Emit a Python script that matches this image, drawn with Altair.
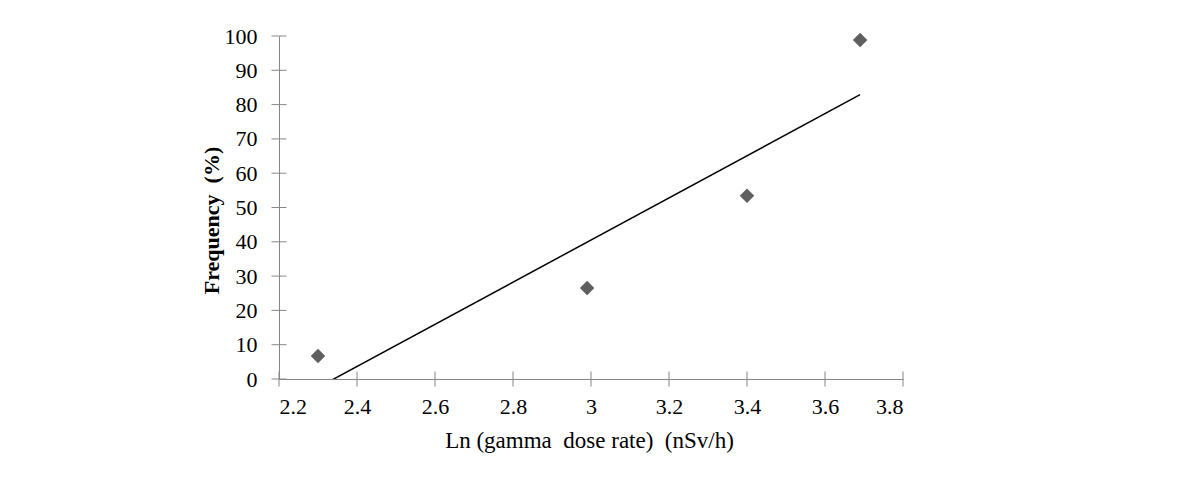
import altair as alt
import pandas as pd

# data
dose_ln = [2.30, 2.99, 3.40, 3.69]
frequency = [6.7, 26.5, 53.4, 98.8]
x_ticks = [2.2, 2.4, 2.6, 2.8, 3.0, 3.2, 3.4, 3.6, 3.8]
y_ticks = [0, 10, 20, 30, 40, 50, 60, 70, 80, 90, 100]

df = pd.DataFrame({"x": dose_ln, "y": frequency})
xt = pd.DataFrame({"t": x_ticks})
yt = pd.DataFrame({"t": y_ticks})

FONT = "Liberation Serif"
AX = "#868686"
FS = 22

xscale = alt.Scale(domain=[2.2, 3.8], nice=False, zero=False)
yscale = alt.Scale(domain=[0, 100], nice=False)

xaxis = alt.Axis(values=x_ticks, ticks=False, labelPadding=17, domainColor=AX,
                 grid=False, labelFont=FONT, labelFontSize=FS, labelColor="black",
                 labelOverlap=False,
                 labelExpr="datum.value == 3 ? '3' : format(datum.value, '.1f')",
                 title="Ln (gamma\u00a0 dose rate)\u00a0 (nSv/h)", titleFont=FONT,
                 titleFontSize=23, titleFontWeight="normal", titleColor="black",
                 titleX=310, titleY=61, titleBaseline="middle", titleAlign="center")
yaxis = alt.Axis(values=y_ticks, ticks=False, labelPadding=22, domainColor=AX,
                 grid=False, labelFont=FONT, labelFontSize=FS, labelColor="black",
                 labelOverlap=False,
                 title="Frequency\u00a0 (%)", titleFont=FONT, titleFontSize=FS,
                 titleFontWeight="bold", titleColor="black", titleAngle=-90,
                 titleX=-68, titleY=184, titleBaseline="middle", titleAlign="center")

points = alt.Chart(df).mark_point(shape="diamond", filled=True, size=210,
                                  color="#5f5f5f", opacity=1).encode(
    x=alt.X("x:Q", scale=xscale, axis=xaxis),
    y=alt.Y("y:Q", scale=yscale, axis=yaxis),
)

trend = alt.Chart(df).transform_regression("x", "y").mark_line(
    color="black", strokeWidth=1.5, clip=True).encode(
    x=alt.X("x:Q", scale=xscale, axis=xaxis),
    y=alt.Y("y:Q", scale=yscale, axis=yaxis),
)

xticks = alt.Chart(xt).mark_tick(orient="vertical", size=15, thickness=1,
                                 color=AX, opacity=1).encode(
    x=alt.X("t:Q", scale=xscale, axis=xaxis),
    y=alt.YDatum(0, scale=yscale, axis=yaxis),
)

yticks = alt.Chart(yt).mark_tick(orient="horizontal", size=15, thickness=1,
                                 color=AX, opacity=1).encode(
    y=alt.Y("t:Q", scale=yscale, axis=yaxis),
    x=alt.XDatum(2.2, scale=xscale, axis=xaxis),
)

chart = alt.layer(points, trend, xticks, yticks).properties(
    width=624, height=343,
    padding={"left": 271, "top": 28, "right": 40, "bottom": 100},
    autosize=alt.AutoSizeParams(type="none"),
).configure_view(stroke=None).configure_axis(domainWidth=1)

chart.save("out.html", embed_options={"renderer": "svg", "actions": False})
